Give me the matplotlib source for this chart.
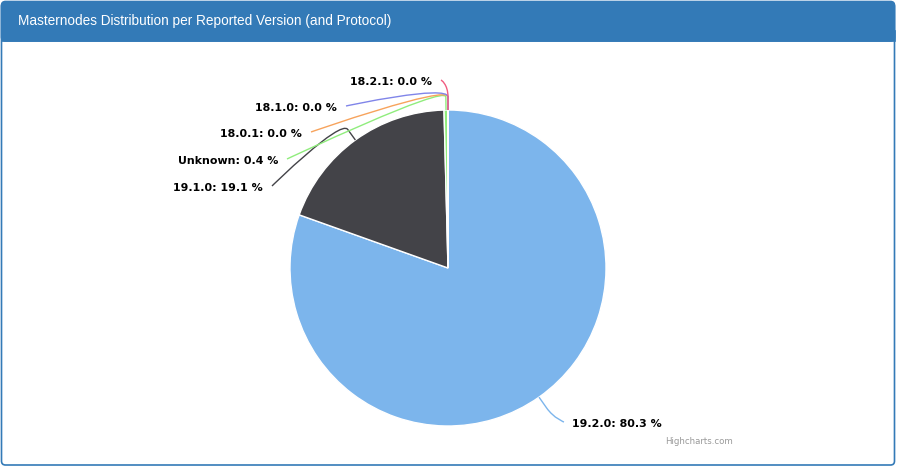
import numpy as np
import matplotlib
matplotlib.use("Agg")
import matplotlib.pyplot as plt
from matplotlib.patches import FancyBboxPatch, Rectangle
from matplotlib.path import Path
from matplotlib.patches import PathPatch

# ---- data ----
versions = ["19.2.0", "19.1.0", "Unknown", "18.0.1", "18.1.0", "18.2.1"]
shares = [80.3, 19.1, 0.4, 0.0, 0.0, 0.0]
colors = ["#7cb5ec", "#434348", "#90ed7d", "#f7a35c", "#8085e9", "#f15c80"]
title = "Masternodes Distribution per Reported Version (and Protocol)"

# ---- layout (image pixel coords, y down) ----
W, H = 900, 468
def Y(y):
    return H - y

cx, cy, R = 448, 268, 158
# label anchor (connector end) positions and alignment
label_pos = {
    "19.2.0": (564, 422, "left"),
    "19.1.0": (272, 186, "right"),
    "Unknown": (287, 159, "right"),
    "18.0.1": (311, 132, "right"),
    "18.1.0": (346, 106, "right"),
    "18.2.1": (441, 80, "right"),
}

fig = plt.figure(figsize=(W / 100, H / 100), dpi=100)
ax = fig.add_axes([0, 0, 1, 1])

panel_col = "#337ab7"
# panel
panel = FancyBboxPatch((1.5, Y(465)), 893, 464 - 1.5,
                       boxstyle="round,pad=0,rounding_size=4",
                       fc="white", ec=panel_col, lw=1.2, zorder=0)
ax.add_patch(panel)
hdr = FancyBboxPatch((1.5, Y(41)), 893, 39.5,
                     boxstyle="round,pad=0,rounding_size=4",
                     fc=panel_col, ec=panel_col, lw=1.2, zorder=1)
ax.add_patch(hdr)
ax.add_patch(Rectangle((1.5, Y(41)), 893, 10, fc=panel_col, ec=panel_col,
                       lw=1.2, zorder=1))
ax.text(18, Y(21), title, color="white", fontsize=9.85,
        family="Liberation Sans", va="center", ha="left", zorder=2)

wedges, _ = ax.pie(shares, colors=colors, startangle=90, counterclock=False,
                   center=(cx, Y(cy)), radius=R,
                   wedgeprops=dict(edgecolor="white", linewidth=1))

brk = 13
for w, name, val, col in zip(wedges, versions, shares, colors):
    mid = np.deg2rad((w.theta1 + w.theta2) / 2)
    base = np.array([cx + R * np.cos(mid), Y(cy) + R * np.sin(mid)])
    bp = np.array([cx + (R + brk) * np.cos(mid), Y(cy) + (R + brk) * np.sin(mid)])
    c2 = 2 * bp - base
    lx, ly, al = label_pos[name]
    a = np.array([lx, Y(ly)])
    verts = [a, a, c2, bp, base]
    codes = [Path.MOVETO, Path.CURVE4, Path.CURVE4, Path.CURVE4, Path.LINETO]
    ax.add_patch(PathPatch(Path(verts, codes), fc="none", ec=col, lw=1, zorder=3))
    tx = lx + 8 if al == "left" else lx - 9
    ax.text(tx, Y(ly + 2), f"{name}: {val:.1f} %", ha=al, va="center",
            fontsize=7.9, fontweight="bold", color="black", family="DejaVu Sans",
            zorder=4)

ax.text(733, Y(442), "Highcharts.com", ha="right", va="center", fontsize=6.2,
        color="#999999", family="DejaVu Sans")

ax.set_xlim(0, W)
ax.set_ylim(0, H)
ax.set_aspect("auto")
ax.axis("off")
fig.savefig("out.png", dpi=100)
